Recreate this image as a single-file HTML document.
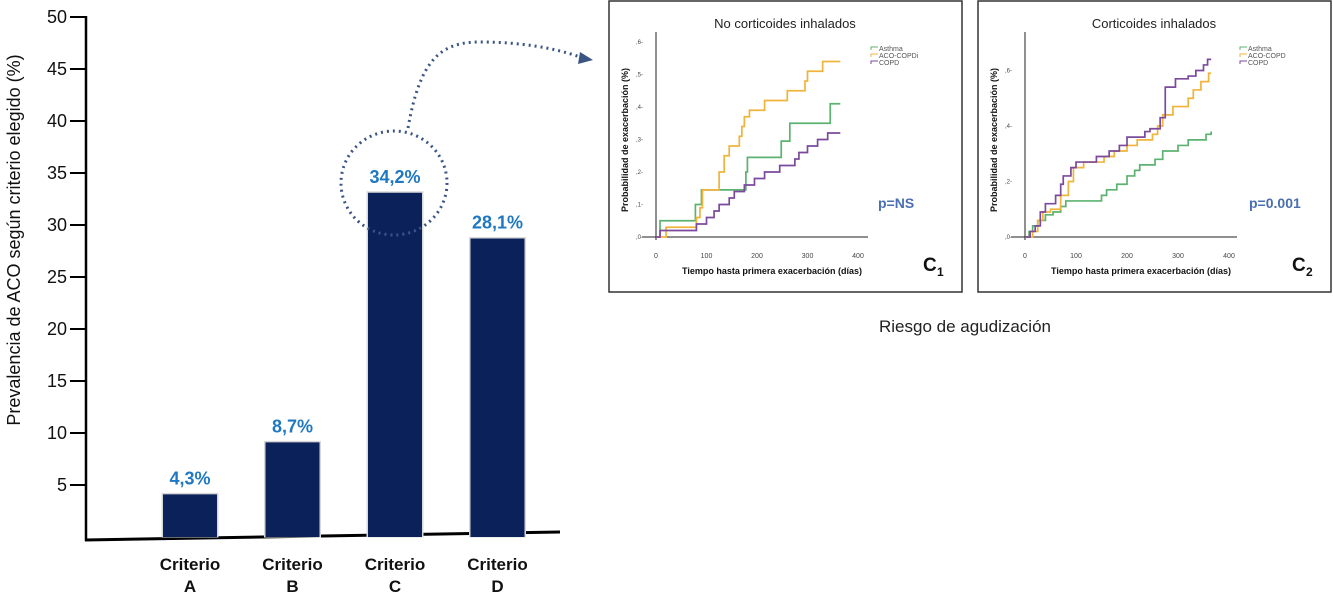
<!DOCTYPE html>
<html><head><meta charset="utf-8"><style>
body{margin:0;background:#fff;width:1333px;height:592px;overflow:hidden;font-family:"Liberation Sans",sans-serif}
svg{position:absolute;left:0;top:0}
</style></head><body>
<svg id="s" width="1333" height="592"></svg>
<script>
const cats=["A","B","C","D"];
const barVals=[4.1,9.1,33.1,28.7];
const barLabels=["4,3%","8,7%","34,2%","28,1%"];
const yTicks=[5,10,15,20,25,30,35,40,45,50];
const kmXTicks=[0,100,200,300,400];
const c1Ticks=[0,0.1,0.2,0.3,0.4,0.5,0.6];
const c2Ticks=[0,0.2,0.4,0.6];
const c1Asthma=[[8,0.05],[78,0.1],[90,0.145],[178,0.2],[181,0.245],[248,0.295],[265,0.35],[345,0.41],[365,0.41]];
const c1Aco=[[20,0.03],[80,0.06],[87,0.09],[92,0.145],[125,0.2],[135,0.25],[145,0.28],[165,0.31],[170,0.34],[175,0.37],[185,0.39],[215,0.42],[260,0.45],[295,0.48],[300,0.51],[330,0.54],[365,0.54]];
const c1Copd=[[8,0.02],[80,0.04],[100,0.06],[115,0.08],[125,0.1],[145,0.12],[155,0.14],[175,0.16],[195,0.18],[215,0.2],[245,0.22],[275,0.24],[283,0.26],[300,0.28],[320,0.3],[340,0.32],[365,0.32]];
const c2Asthma=[[8,0.02],[15,0.04],[25,0.06],[40,0.08],[55,0.09],[70,0.11],[80,0.13],[150,0.15],[160,0.17],[180,0.19],[200,0.22],[215,0.24],[225,0.26],[255,0.28],[270,0.31],[300,0.33],[320,0.35],[355,0.37],[365,0.38]];
const c2Aco=[[15,0.02],[25,0.06],[35,0.09],[50,0.1],[70,0.15],[85,0.2],[95,0.25],[115,0.27],[155,0.29],[175,0.31],[200,0.33],[220,0.35],[250,0.37],[260,0.4],[270,0.44],[290,0.47],[320,0.5],[330,0.53],[345,0.56],[360,0.59],[365,0.59]];
const c2Copd=[[10,0.02],[20,0.04],[30,0.09],[40,0.12],[60,0.15],[70,0.19],[75,0.22],[90,0.25],[100,0.27],[140,0.29],[165,0.31],[185,0.33],[200,0.36],[235,0.38],[245,0.39],[265,0.43],[275,0.54],[295,0.57],[320,0.58],[335,0.6],[350,0.62],[358,0.64],[365,0.64]];

const S=document.getElementById('s');const NS="http://www.w3.org/2000/svg";
function el(t,a,txt){const e=document.createElementNS(NS,t);for(const k in a)e.setAttribute(k,a[k]);if(txt!==undefined)e.textContent=txt;S.appendChild(e);return e;}

const yB=v=>537-v*10.4;
const xB=i=>163+i*102.5;
let e;
e=el('line',{x1:86,y1:16,x2:86,y2:541,stroke:'#000','stroke-width':2.5});

e=el('line',{x1:85,y1:540,x2:560,y2:532,stroke:'#000','stroke-width':3});

yTicks.forEach(t=>{
 el('line',{x1:70,y1:yB(t),x2:86,y2:yB(t),stroke:'#000','stroke-width':2});
 e=el('text',{x:67,y:yB(t)+6,'text-anchor':'end','font-size':18,fill:'#111'},t);
 
});
e=el('text',{x:20,y:240,'text-anchor':'middle','font-size':18,fill:'#111',transform:'rotate(-90 20 240)'},'Prevalencia de ACO según criterio elegido (%)');

cats.forEach((c,i)=>{
 const x=xB(i),top=yB(barVals[i]);
 el('rect',{x:x-1.5,y:top-1.5,width:57,height:537-top+2,fill:'#d8d8d8'});
 e=el('rect',{x:x,y:top,width:54,height:537-top,fill:'#0a215a'});
 
 e=el('text',{x:x+27,y:top-10,'text-anchor':'middle','font-size':18,'font-weight':'bold',fill:'#1f78c1'},barLabels[i]);
 
 e=el('text',{x:x+27,y:570,'text-anchor':'middle','font-size':17,'font-weight':'bold',fill:'#111'},'Criterio');
 
 e=el('text',{x:x+27,y:592,'text-anchor':'middle','font-size':17,'font-weight':'bold',fill:'#111'},c);
 
});
e=el('ellipse',{cx:394,cy:183,rx:53,ry:52,fill:'none',stroke:'#3a5584','stroke-width':3,'stroke-dasharray':'2 4'});

e=el('path',{d:'M408 128 C420 60 440 42 480 42 C520 42 555 48 580 57',fill:'none',stroke:'#3a5584','stroke-width':3,'stroke-dasharray':'2 4'});

el('polygon',{points:'593,60 580,52 578,64',fill:'#3a5584'});

function panel(bx,title,ax,yMax,ticks,series,pTxt,sub){
 e=el('rect',{x:bx+1,y:1,width:353,height:291,fill:'#fff',stroke:'#333','stroke-width':1.5});
 
 const X=d=>ax.x0+d*ax.kx, Y=v=>237-v*ax.ky;
 e=el('text',{x:bx+177,y:28,'text-anchor':'middle','font-size':13,fill:'#222'},title);
 
 el('line',{x1:ax.x0,y1:32,x2:ax.x0,y2:240,stroke:'#222','stroke-width':1});
 el('line',{x1:ax.x0-14,y1:237,x2:bx+260,y2:237,stroke:'#222','stroke-width':1});
 kmXTicks.forEach(t=>{e=el('text',{x:X(t),y:258,'text-anchor':'middle','font-size':7,fill:'#444'},t);
  });
 ticks.forEach(t=>{e=el('text',{x:ax.x0-13,y:Y(t)+2,'text-anchor':'end','font-size':6,fill:'#444'},','+Math.round(t*10)+'-');
  });
 e=el('text',{x:bx+20,y:140,'text-anchor':'middle','font-size':9,'font-weight':'bold',fill:'#111',transform:`rotate(-90 ${bx+20} 140)`},'Probabilidad de exacerbación (%)');
 
 e=el('text',{x:bx+164,y:274,'text-anchor':'middle','font-size':9,'font-weight':'bold',fill:'#111'},'Tiempo hasta primera exacerbación (días)');
 
 const names=['Asthma',sub==='c1'?'ACO-COPDi':'ACO-COPD','COPD'];
 const cols=['#5cb270','#f0b43c','#7b4a9c'];
 series.forEach((s,k)=>{
  let d=`M${X(0)} ${Y(0)}`;
  s.forEach(p=>{d+=` H${X(p[0])} V${Y(p[1])}`;});
  e=el('path',{d:d,fill:'none',stroke:cols[k],'stroke-width':1.7});
  
  const ly=49+k*7;
  el('path',{d:`M${bx+263} ${ly+1} V${ly-2} H${bx+270}`,fill:'none',stroke:cols[k],'stroke-width':1});
  e=el('text',{x:bx+271,y:ly+2,'font-size':7,fill:'#555'},names[k]);
  
 });
 e=el('text',{x:bx+(sub==='c1'?270:272),y:208,'font-size':14,'font-weight':'bold',fill:'#4a6fb0'},pTxt);
 
 e=el('text',{x:bx+315,y:271,'font-size':19,'font-weight':'bold',fill:'#111'},'C');
 
 el('text',{x:bx+329,y:276,'font-size':12,'font-weight':'bold',fill:'#111'},sub==='c1'?'1':'2');
}
panel(608,'No corticoides inhalados',{x0:656,kx:0.505,ky:325},0.6,c1Ticks,[c1Asthma,c1Aco,c1Copd],'p=NS','c1');
panel(977,'Corticoides inhalados',{x0:1025,kx:0.51,ky:277.5},0.6,c2Ticks,[c2Asthma,c2Aco,c2Copd],'p=0.001','c2');
e=el('text',{x:965,y:332,'text-anchor':'middle','font-size':17,fill:'#222'},'Riesgo de agudización');

</script>
</body></html>
